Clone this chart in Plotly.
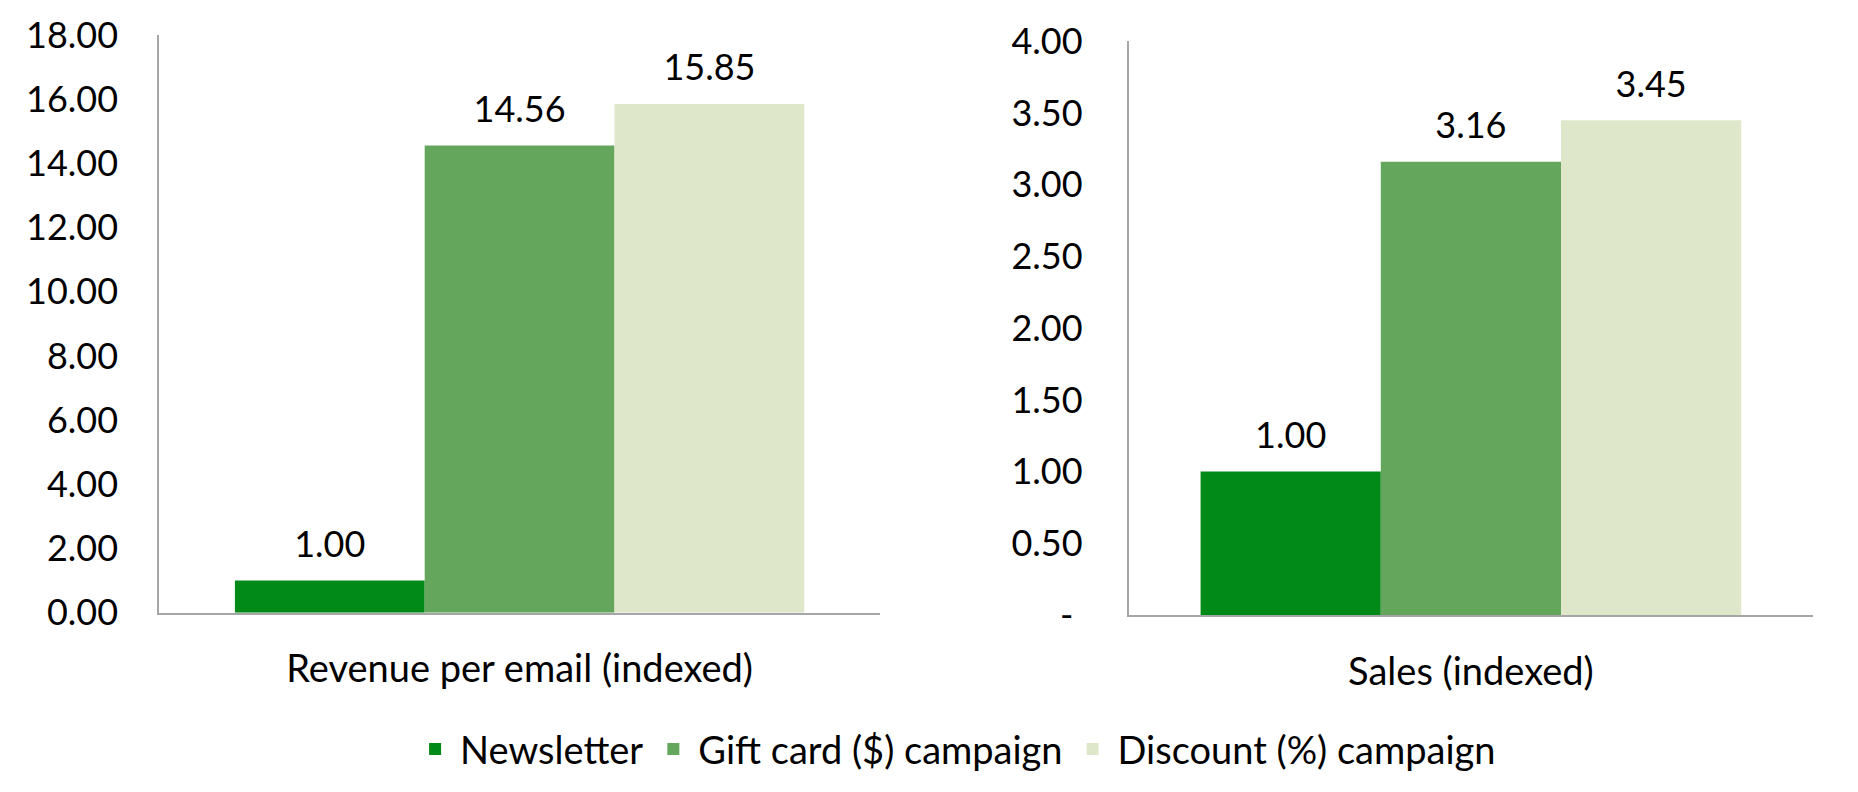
import plotly.graph_objects as go

# Data
series = ['Newsletter', 'Gift card ($) campaign', 'Discount (%) campaign']
colors = ['#018A17', '#63A65C', '#DFE7CB']

revenue_category = ['Revenue per email (indexed)']
revenue_values = [1.00, 14.56, 15.85]

sales_category = ['Sales (indexed)']
sales_values = [1.00, 3.16, 3.45]

revenue_ticks = [0, 2, 4, 6, 8, 10, 12, 14, 16, 18]
sales_ticks = [0, 0.5, 1.0, 1.5, 2.0, 2.5, 3.0, 3.5, 4.0]
sales_ticktext = ['-\u00a0', '0.50', '1.00', '1.50', '2.00',
                  '2.50', '3.00', '3.50', '4.00']

FONT = 'Lato'
NUM_FS = 36   # numbers (ticks, value labels)
TXT_FS = 38   # words (categories, legend)
AXIS_GREY = '#A6A6A6'

fig = go.Figure()

# bars
for i, name in enumerate(series):
    fig.add_trace(go.Bar(
        x=revenue_category, y=[revenue_values[i]], name=name,
        marker=dict(color=colors[i], line=dict(width=0)),
        offsetgroup=str(i), xaxis='x', yaxis='y',
        hoverinfo='skip', legendgroup=name,
    ))
    fig.add_trace(go.Bar(
        x=sales_category, y=[sales_values[i]], name=name,
        marker=dict(color=colors[i], line=dict(width=0)),
        offsetgroup=str(i), xaxis='x2', yaxis='y2',
        hoverinfo='skip', legendgroup=name, showlegend=False,
    ))

# value labels above the bars (transparent marker pushes text up a bit)
for i, name in enumerate(series):
    for cat, vals, xa, ya in [(revenue_category, revenue_values, 'x', 'y'),
                              (sales_category, sales_values, 'x2', 'y2')]:
        fig.add_trace(go.Scatter(
            x=cat, y=[vals[i]], mode='markers+text',
            text=[f'{vals[i]:.2f}'], textposition='top center',
            textfont=dict(family=FONT, size=NUM_FS, color='black'),
            marker=dict(size=22, color='rgba(0,0,0,0)'),
            offsetgroup=str(i), xaxis=xa, yaxis=ya,
            showlegend=False, hoverinfo='skip', cliponaxis=False,
        ))

xaxis_style = dict(showline=True, linecolor=AXIS_GREY, linewidth=2,
                   showgrid=False, ticks='', ticklabelstandoff=22,
                   tickfont=dict(family=FONT, size=TXT_FS, color='black'),
                   automargin=False, fixedrange=True)
yaxis_style = dict(showline=True, linecolor=AXIS_GREY, linewidth=2,
                   showgrid=False, zeroline=False, ticks='',
                   tickfont=dict(family=FONT, size=NUM_FS, color='black'),
                   automargin=False, fixedrange=True)

fig.update_layout(
    width=1858, height=792,
    margin=dict(l=0, r=0, t=0, b=0, autoexpand=False),
    paper_bgcolor='white', plot_bgcolor='white',
    barmode='group', bargap=0.21, bargroupgap=0,
    scattermode='group', scattergap=0.21,
    font=dict(family=FONT, size=TXT_FS, color='black'),
    xaxis=dict(domain=[0.0814, 0.4693], anchor='y', **xaxis_style),
    yaxis=dict(domain=[0.2365, 0.9659], anchor='x', range=[0, 18],
               tickvals=revenue_ticks, tickformat='.2f',
               ticklabelstandoff=32, **yaxis_style),
    xaxis2=dict(domain=[0.6032, 0.9715], anchor='y2', **xaxis_style),
    yaxis2=dict(domain=[0.2336, 0.9578], anchor='x2', range=[0, 4],
                tickvals=sales_ticks, ticktext=sales_ticktext,
                ticklabelstandoff=37, **yaxis_style),
    legend=dict(orientation='h', x=0.51, xanchor='center',
                y=0.064, yanchor='middle', traceorder='normal',
                itemwidth=40,
                font=dict(family=FONT, size=TXT_FS, color='black'),
                itemclick=False, itemdoubleclick=False),
    showlegend=True,
)

fig.write_html("out.html")
